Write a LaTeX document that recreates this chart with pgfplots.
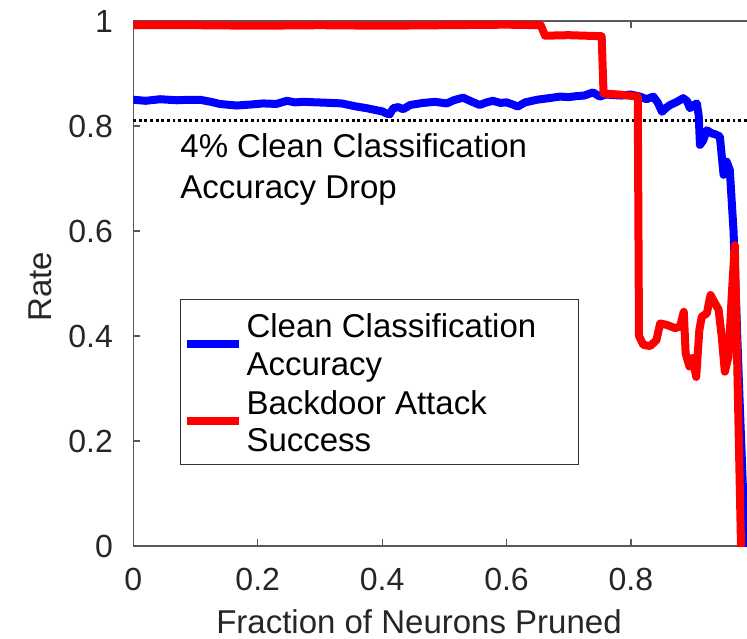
\documentclass[border=0pt]{standalone}
\usepackage{pgfplots}
\pgfplotsset{compat=1.18}
\usepackage{fontspec}
\setmainfont{Liberation Sans}

\begin{document}
\begin{tikzpicture}
\useasboundingbox (-66.65pt,-46pt) rectangle (306.85pt,273pt);
\clip (-66.65pt,-46pt) rectangle (306.85pt,273pt);
\begin{axis}[
  scale only axis, width=311pt, height=262.5pt,
  at={(0pt,0pt)}, anchor=south west,
  xmin=0, xmax=1, ymin=0, ymax=1,
  xtick={0,0.2,0.4,0.6,0.8,1}, ytick={0,0.2,0.4,0.6,0.8,1},
  /pgf/number format/assume math mode=true,
  tick align=inside, major tick length=3.3pt,
  axis line style={black!65, line width=0.6pt},
  every tick/.style={black!65, line width=0.6pt},
  tick label style={font=\fontsize{16}{19}\selectfont, text=black!85},
  xticklabel style={anchor=north, inner sep=0pt, yshift=-11pt},
  yticklabel style={anchor=east, inner sep=0pt, xshift=-10pt},
  xlabel={Fraction of Neurons Pruned}, ylabel={Rate},
  every axis x label/.style={at={(rel axis cs:0.4593,-0.1663)}, anchor=base,
    font=\fontsize{16.5}{19}\selectfont, text=black!85},
  every axis y label/.style={at={(rel axis cs:-0.1312,0.494)}, rotate=90, anchor=base,
    font=\fontsize{16.5}{19}\selectfont, text=black!85},
  legend style={at={(rel axis cs:0.0751,0.4699)}, anchor=north west,
    draw=black!80, line width=0.5pt, fill=white,
    inner xsep=1pt, inner ysep=5pt, row sep=3.75pt, column sep=2pt,
    font=\fontsize{16.5}{18.9}\selectfont,
    nodes={inner sep=0pt},
    cells={align=left, anchor=west, inner sep=0pt}},
  legend image code/.code={\draw[#1, line cap=butt] (0pt,0pt) -- (26pt,0pt);},
]
\addplot[black, line width=1.5pt, dash pattern=on 1.4pt off 1.4pt, forget plot]
  coordinates {(0,0.811) (1,0.811)};

\addplot[blue, line width=4pt, line join=round, line cap=round] coordinates {
(0,0.850) (0.02,0.848) (0.043,0.851) (0.07,0.849) (0.09,0.850) (0.107,0.850) (0.125,0.846)
(0.139,0.842) (0.166,0.839) (0.19,0.841) (0.209,0.843) (0.23,0.842) (0.247,0.848)
(0.26,0.845) (0.273,0.846) (0.295,0.845) (0.317,0.844) (0.335,0.843) (0.359,0.837)
(0.375,0.834) (0.391,0.830) (0.400,0.828) (0.407,0.824) (0.412,0.822) (0.418,0.834)
(0.426,0.836) (0.434,0.832) (0.445,0.840) (0.466,0.844) (0.485,0.846) (0.504,0.843)
(0.515,0.849) (0.530,0.854) (0.545,0.846) (0.557,0.840) (0.568,0.845) (0.578,0.848)
(0.590,0.844) (0.600,0.845) (0.610,0.841) (0.618,0.837) (0.630,0.845) (0.649,0.850)
(0.668,0.853) (0.686,0.856) (0.700,0.855) (0.713,0.857) (0.725,0.858) (0.739,0.864)
(0.750,0.856) (0.760,0.860) (0.771,0.859) (0.785,0.858) (0.799,0.860) (0.815,0.856)
(0.825,0.851) (0.836,0.856) (0.843,0.845) (0.850,0.827) (0.857,0.835) (0.863,0.840)
(0.874,0.846) (0.884,0.853) (0.890,0.848) (0.895,0.834) (0.901,0.840) (0.906,0.843)
(0.909,0.820) (0.911,0.764) (0.916,0.772) (0.922,0.792) (0.930,0.786) (0.936,0.784)
(0.943,0.780) (0.949,0.707) (0.954,0.732) (0.959,0.716) (0.965,0.600) (0.974,0.300)
(0.983,0.020) (0.99,0.0)
};
\addlegendentry{\rule{0pt}{14pt}\makebox[165pt][l]{Clean Classification}\\Accuracy\rule[-4pt]{0pt}{4pt}}

\addplot[red, line width=4pt, line join=round, line cap=round] coordinates {
(0,0.992) (0.1,0.992) (0.2,0.991) (0.3,0.992) (0.4,0.991) (0.5,0.992) (0.6,0.993)
(0.655,0.992) (0.662,0.972) (0.7,0.973) (0.753,0.971) (0.756,0.862) (0.78,0.860)
(0.811,0.856) (0.813,0.400) (0.82,0.383) (0.831,0.381) (0.841,0.392) (0.847,0.424)
(0.858,0.421) (0.871,0.415) (0.879,0.418) (0.885,0.446) (0.888,0.367) (0.894,0.342)
(0.899,0.358) (0.905,0.322) (0.910,0.411) (0.914,0.437) (0.922,0.443) (0.928,0.478)
(0.934,0.465) (0.941,0.450) (0.946,0.399) (0.951,0.332) (0.957,0.361) (0.962,0.475)
(0.967,0.573) (0.977,0.0)
};
\addlegendentry{\rule{0pt}{14pt}\makebox[165pt][l]{Backdoor Attack}\\Success}

\node[anchor=base west, inner sep=0pt, font=\fontsize{16.5}{19}\selectfont]
  at (rel axis cs:0.0751,0.7406) {4\% Clean Classification};
\node[anchor=base west, inner sep=0pt, font=\fontsize{16.5}{19}\selectfont]
  at (rel axis cs:0.0751,0.6627) {Accuracy Drop};
\end{axis}
\end{tikzpicture}
\end{document}
